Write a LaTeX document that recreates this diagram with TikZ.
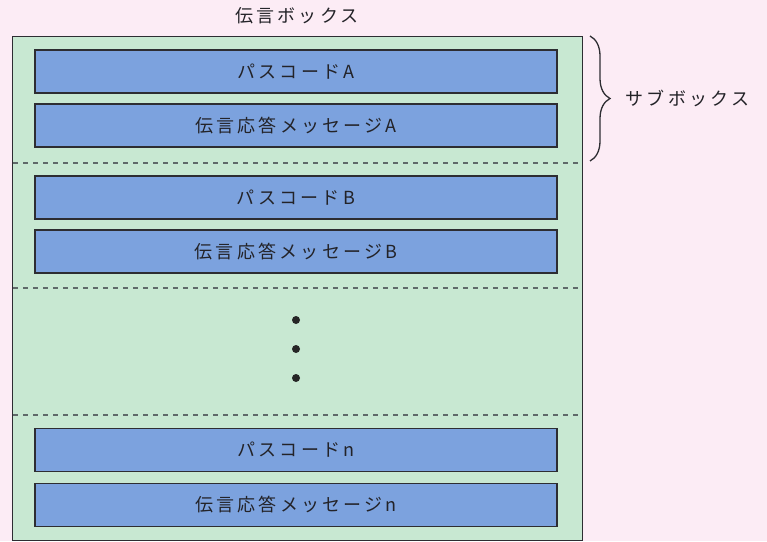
\documentclass[tikz,border=0pt]{standalone}
\usepackage{fontspec}
\setmainfont{Noto Sans CJK JP}[LetterSpace=18]
\usetikzlibrary{decorations.pathreplacing}
\definecolor{bgpink}{RGB}{252,236,245}
\definecolor{boxgreen}{RGB}{200,232,210}
\definecolor{boxblue}{RGB}{124,162,222}
\definecolor{lineclr}{RGB}{45,45,50}
\definecolor{dashclr}{RGB}{95,105,105}
\definecolor{txt}{RGB}{35,35,40}
\begin{document}
\begin{tikzpicture}[x=1pt,y=-1pt,
  field/.style={draw=lineclr,line width=1.1pt,fill=boxblue,minimum width=522pt,minimum height=43pt,inner sep=0pt,text=txt,font=\fontsize{18}{18}\selectfont},
  sep/.style={draw=dashclr,line width=1.1pt,dash pattern=on 5pt off 5pt},
  lbl/.style={text=txt,font=\fontsize{18}{18}\selectfont}]
\useasboundingbox (0,0) rectangle (767,541);
\fill[bgpink] (0,0) rectangle (767,541);
\node[draw=lineclr,line width=1.1pt,fill=boxgreen,minimum width=570pt,minimum height=504pt,inner sep=0pt,anchor=north west] (outer) at (12,36) {};
\node[lbl] (title) at (297,16) {伝言ボックス};
\node[field] (pa) at (296,71.5) {パスコードA};
\node[field] (ma) at (296,125.5) {伝言応答メッセージA};
\node[field] (pb) at (296,197.5) {パスコードB};
\node[field] (mb) at (296,251.5) {伝言応答メッセージB};
\node[field] (pn) at (296,450) {パスコードn};
\node[field] (mn) at (296,505) {伝言応答メッセージn};
\foreach \yy in {163,288,415} \draw[sep] (13,\yy) -- (581,\yy);
\foreach \yy in {320,349,378} \fill[black!85] (296,\yy) circle (4pt);
\draw[lineclr,line width=1.3pt,decorate,decoration={brace,amplitude=20pt,aspect=0.5}] (590,36) -- (590,161);
\node[lbl,anchor=west] (sub) at (622,98) {サブボックス};
\end{tikzpicture}
\end{document}
